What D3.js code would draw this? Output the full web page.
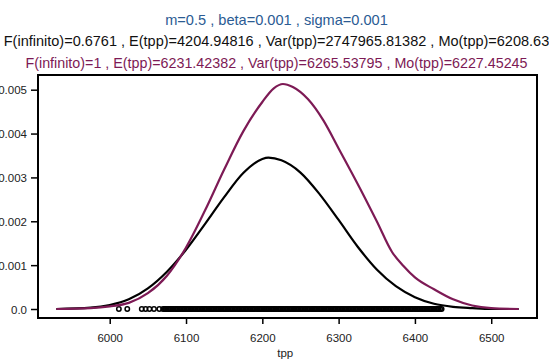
<!DOCTYPE html>
<html>
<head>
<meta charset="utf-8">
<script src="https://cdn.jsdelivr.net/npm/d3@7"></script>
<style>
  body { margin: 0; background: #fff; }
  text { font-family: "Liberation Sans", Arial, sans-serif; }
</style>
</head>
<body>
<script>
const W = 549, H = 359;
const margin = {top: 75, right: 12, bottom: 41, left: 38};

// titles
const titles = [
  {text: "m=0.5 , beta=0.001 , sigma=0.001", color: "#2b5b93", size: 14.6, y: 25},
  {text: "F(infinito)=0.6761 , E(tpp)=4204.94816 , Var(tpp)=2747965.81382 , Mo(tpp)=6208.63", color: "#111", size: 14.5, y: 46},
  {text: "F(infinito)=1 , E(tpp)=6231.42382 , Var(tpp)=6265.53795 , Mo(tpp)=6227.45245", color: "#7d1a55", size: 14.3, y: 68}
];

// density of the defective distribution (black)
const tppBlack = [5930, 5975, 6000, 6025, 6050, 6075, 6100, 6125, 6150, 6175, 6200, 6208, 6225, 6250, 6275, 6300, 6325, 6350, 6375, 6400, 6425, 6450, 6475, 6500, 6536];
const densBlack = [0.00000, 0.00003, 0.00009, 0.00022, 0.00047, 0.00085, 0.00135, 0.00194, 0.00255, 0.00310, 0.00342, 0.00345, 0.00339, 0.00311, 0.00262, 0.00203, 0.00142, 0.00090, 0.00052, 0.00027, 0.00012, 0.00005, 0.00002, 0.00000, 0.00000];

// density of the proper distribution (purple)
const tppPurple = [5930, 5975, 6000, 6025, 6050, 6075, 6100, 6125, 6150, 6175, 6200, 6215, 6227, 6240, 6260, 6280, 6300, 6325, 6350, 6370, 6385, 6400, 6425, 6450, 6475, 6500, 6536];
const densPurple = [0.00000, 0.00002, 0.00006, 0.00014, 0.00036, 0.00076, 0.00140, 0.00225, 0.00318, 0.00405, 0.00472, 0.00503, 0.00513, 0.00506, 0.00478, 0.00430, 0.00366, 0.00285, 0.00200, 0.00130, 0.00098, 0.00072, 0.00045, 0.00022, 0.00008, 0.00002, 0.00000];

// observed tpp values (rug at zero)
const obs = [6012, 6023, 6042, 6047, 6052, 6058, 6065, 6070, 6072, 6073, 6075, 6077, 6079, 6080, 6082, 6084, 6086, 6088, 6089, 6091, 6093, 6095, 6097, 6098,
  6100, 6102, 6104, 6106, 6107, 6109, 6111, 6113, 6115, 6116, 6118, 6120, 6122, 6124, 6125, 6127, 6129, 6131, 6133, 6134, 6136, 6138, 6140, 6142, 6143, 6145, 6147, 6149, 6151,
  6152, 6154, 6156, 6158, 6160, 6161, 6163, 6165, 6167, 6169, 6170, 6172, 6174, 6176, 6178, 6179, 6181, 6183, 6185, 6187, 6188, 6190, 6192, 6194, 6196, 6197, 6199, 6201, 6203, 6205,
  6206, 6208, 6210, 6212, 6214, 6215, 6217, 6219, 6221, 6223, 6224, 6226, 6228, 6230, 6232, 6233, 6235, 6237, 6239, 6241, 6242, 6244, 6246, 6248, 6250, 6251, 6253, 6255, 6257, 6259,
  6260, 6262, 6264, 6266, 6268, 6269, 6271, 6273, 6275, 6277, 6278, 6280, 6282, 6284, 6286, 6287, 6289, 6291, 6293, 6295, 6296, 6298, 6300, 6302, 6304, 6305, 6307, 6309, 6311, 6313,
  6314, 6316, 6318, 6320, 6322, 6323, 6325, 6327, 6329, 6331, 6332, 6334, 6336, 6338, 6340, 6341, 6343, 6345, 6347, 6349, 6350, 6352, 6354, 6356, 6358, 6359, 6361, 6363, 6365, 6367,
  6368, 6370, 6372, 6374, 6376, 6377, 6379, 6381, 6383, 6385, 6386, 6388, 6390, 6392, 6394, 6395, 6397, 6399, 6401, 6403, 6404, 6406, 6408, 6410, 6412, 6413, 6415, 6417, 6419, 6421,
  6422, 6424, 6426, 6428, 6430, 6431, 6433, 6435];

const xTicks = [6000, 6100, 6200, 6300, 6400, 6500];
const yTicks = [0, 0.001, 0.002, 0.003, 0.004, 0.005];
const yTickLabels = ["0.0", "0.001", "0.002", "0.003", "0.004", "0.005"];

const svg = d3.select("body").append("svg")
    .attr("width", W)
    .attr("height", H);

const w = W - margin.left - margin.right;
const h = H - margin.top - margin.bottom;

const x = d3.scaleLinear().domain([5906, 6560]).range([margin.left, margin.left + w]);
const y = d3.scaleLinear().domain([-0.000205, 0.005335]).range([margin.top + h, margin.top]);

// titles
svg.selectAll(".title")
    .data(titles)
    .enter()
    .append("text")
    .attr("x", W / 2 + 2)
    .attr("y", d => d.y)
    .attr("text-anchor", "middle")
    .style("font-size", d => d.size + "px")
    .style("fill", d => d.color)
    .text(d => d.text);

// axes
const xAxis = svg.append("g")
    .attr("transform", "translate(0," + (margin.top + h) + ")")
    .call(d3.axisBottom(x).tickValues(xTicks).tickSize(6).tickPadding(10).tickFormat(d3.format("d")));
const yAxis = svg.append("g")
    .attr("transform", "translate(" + margin.left + ",0)")
    .call(d3.axisLeft(y).tickValues(yTicks).tickSize(7).tickPadding(4).tickFormat((d, i) => yTickLabels[i]));

[xAxis, yAxis].forEach(g => {
  g.select(".domain").remove();
  g.selectAll(".tick line").attr("stroke", "#000").attr("stroke-width", 1.5);
  g.selectAll(".tick text").style("font-size", "11.5px").style("fill", "#222")
    .style("font-family", "'Liberation Sans', Arial, sans-serif");
});
yAxis.selectAll(".tick text").attr("dy", "0.35em");

// x label
svg.append("text")
    .attr("x", x(6230))
    .attr("y", 357)
    .attr("text-anchor", "middle")
    .style("font-size", "11.5px")
    .style("fill", "#222")
    .text("tpp");

// rug points
svg.append("g")
    .selectAll("circle")
    .data(obs)
    .enter()
    .append("circle")
    .attr("cx", d => x(d))
    .attr("cy", y(0))
    .attr("r", 2.2)
    .attr("fill", "none")
    .attr("stroke", "#000")
    .attr("stroke-width", 1.5);

// curves
const line = d3.line()
    .x(d => x(d[0]))
    .y(d => y(d[1]))
    .curve(d3.curveMonotoneX);

svg.append("path")
    .datum(tppBlack.map((t, i) => [t, densBlack[i]]))
    .attr("d", line)
    .attr("fill", "none")
    .attr("stroke", "#000")
    .attr("stroke-width", 2.2);

svg.append("path")
    .datum(tppPurple.map((t, i) => [t, densPurple[i]]))
    .attr("d", line)
    .attr("fill", "none")
    .attr("stroke", "#7d1a55")
    .attr("stroke-width", 2.2);

// box
svg.append("rect")
    .attr("x", margin.left)
    .attr("y", margin.top)
    .attr("width", w)
    .attr("height", h)
    .attr("fill", "none")
    .attr("stroke", "#000")
    .attr("stroke-width", 2);
</script>
</body>
</html>
